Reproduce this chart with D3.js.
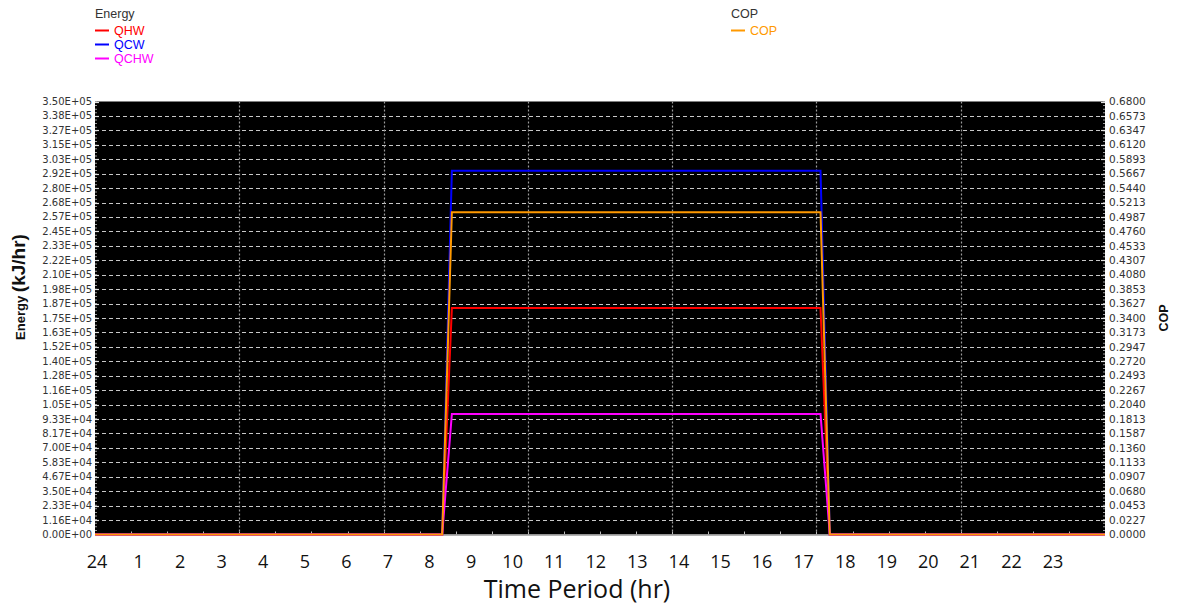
<!DOCTYPE html>
<html>
<head>
<meta charset="utf-8">
<script src="https://cdn.jsdelivr.net/npm/d3@7"></script>
<style>
  body { margin: 0; background: #fff; }
  svg { display: block; }
</style>
</head>
<body>
<svg id="chart" width="1187" height="610"></svg>
<script>
// Daily operating profile (time in hours from midnight)
const timeHr = [0, 8.25, 8.48, 17.24, 17.46, 24];

// Energy rates, kJ/hr
const qhw  = [0, 0, 1.83e5, 1.83e5, 0, 0];
const qcw  = [0, 0, 2.94e5, 2.94e5, 0, 0];
const qchw = [0, 0, 9.74e4, 9.74e4, 0, 0];

// Coefficient of performance
const cop = [0, 0, 0.506, 0.506, 0, 0];

// Axis tick labels, top to bottom
const energyTickLabels = [
  "3.50E+05","3.38E+05","3.27E+05","3.15E+05","3.03E+05","2.92E+05","2.80E+05","2.68E+05",
  "2.57E+05","2.45E+05","2.33E+05","2.22E+05","2.10E+05","1.98E+05","1.87E+05","1.75E+05",
  "1.63E+05","1.52E+05","1.40E+05","1.28E+05","1.16E+05","1.05E+05","9.33E+04","8.17E+04",
  "7.00E+04","5.83E+04","4.67E+04","3.50E+04","2.33E+04","1.16E+04","0.00E+00"
];
const copTickLabels = [
  "0.6800","0.6573","0.6347","0.6120","0.5893","0.5667","0.5440","0.5213","0.4987","0.4760",
  "0.4533","0.4307","0.4080","0.3853","0.3627","0.3400","0.3173","0.2947","0.2720","0.2493",
  "0.2267","0.2040","0.1813","0.1587","0.1360","0.1133","0.0907","0.0680","0.0453","0.0227","0.0000"
];
const hourLabels = ["24","1","2","3","4","5","6","7","8","9","10","11","12",
                    "13","14","15","16","17","18","19","20","21","22","23"];

const energyMax = 3.5e5;
const copMax = 0.68;
const majorDivisionsX = 7;
const minorPerMajorX = 4;

const energySeries = [
  { name: "QHW",  values: qhw,  color: "#ff0000" },
  { name: "QCW",  values: qcw,  color: "#0000ff" },
  { name: "QCHW", values: qchw, color: "#ff00ff" }
];
const copSeries = [{ name: "COP", values: cop, color: "#ff9900" }];

const svg = d3.select("#chart");
const W = 1187, H = 610;
const plot = { left: 95, right: 1105, top: 101.5, bottom: 534.5 };

svg.append("rect").attr("width", W).attr("height", H).attr("fill", "#fff");

const x = d3.scaleLinear().domain([0, 24]).range([plot.left, plot.right]);
const yE = d3.scaleLinear().domain([0, energyMax]).range([plot.bottom, plot.top]);
const yC = d3.scaleLinear().domain([0, copMax]).range([plot.bottom, plot.top]);

// Plot background
svg.append("rect")
  .attr("x", plot.left).attr("y", plot.top)
  .attr("width", plot.right - plot.left).attr("height", plot.bottom - plot.top)
  .attr("fill", "#000");

const nE = energyTickLabels.length;
const energyTicks = energyTickLabels.map((lab, i) => ({ lab, v: energyMax * (nE - 1 - i) / (nE - 1) }));
const nC = copTickLabels.length;
const copTicks = copTickLabels.map((lab, i) => ({ lab, v: copMax * (nC - 1 - i) / (nC - 1) }));

// Horizontal grid
const grid = svg.append("g");
grid.selectAll("line.h")
  .data(energyTicks.filter(d => d.v > 0 && d.v < energyMax))
  .join("line")
  .attr("x1", plot.left).attr("x2", plot.right)
  .attr("y1", d => Math.round(yE(d.v)) + 0.5).attr("y2", d => Math.round(yE(d.v)) + 0.5)
  .attr("stroke", "#c8c8c8").attr("stroke-width", 1)
  .attr("stroke-dasharray", "4,3");

// Vertical grid
const xMajor = d3.range(1, majorDivisionsX).map(i => 24 * i / majorDivisionsX);
grid.selectAll("line.v")
  .data(xMajor)
  .join("line")
  .attr("x1", d => Math.round(x(d)) + 0.5).attr("x2", d => Math.round(x(d)) + 0.5)
  .attr("y1", plot.top).attr("y2", plot.bottom)
  .attr("stroke", "#9a9a9a").attr("stroke-width", 1.2)
  .attr("stroke-dasharray", "2,2");

// Minor ticks along the bottom edge
const xMinor = d3.range(1, majorDivisionsX * minorPerMajorX).map(i => 24 * i / (majorDivisionsX * minorPerMajorX));
grid.selectAll("line.xm")
  .data(xMinor)
  .join("line")
  .attr("x1", d => Math.round(x(d)) + 0.5).attr("x2", d => Math.round(x(d)) + 0.5)
  .attr("y1", plot.bottom - 3).attr("y2", plot.bottom)
  .attr("stroke", "#bbbbbb").attr("stroke-width", 1);

// Bottom axis line
svg.append("line")
  .attr("x1", plot.left).attr("x2", plot.right)
  .attr("y1", plot.bottom + 0.5).attr("y2", plot.bottom + 0.5)
  .attr("stroke", "#9a9a9a").attr("stroke-width", 1.5);

// Edge ticks (left and right)
[plot.left, plot.right].forEach((ex, side) => {
  svg.append("line")
    .attr("x1", ex + (side ? -1 : 1)).attr("x2", ex + (side ? -1 : 1))
    .attr("y1", plot.top).attr("y2", plot.bottom)
    .attr("stroke", "#cfcfcf").attr("stroke-width", 1.5)
    .attr("stroke-dasharray", "1,2.6");
  svg.append("g").selectAll("line")
    .data(energyTicks)
    .join("line")
    .attr("x1", ex).attr("x2", ex + (side ? -4 : 4))
    .attr("y1", d => Math.round(yE(d.v)) + 0.5).attr("y2", d => Math.round(yE(d.v)) + 0.5)
    .attr("stroke", "#e0e0e0").attr("stroke-width", 1.2);
});

// Series lines
const lineE = d3.line().x((d, i) => x(timeHr[i])).y(d => yE(d));
const lineC = d3.line().x((d, i) => x(timeHr[i])).y(d => yC(d));

svg.append("g").selectAll("path")
  .data(energySeries)
  .join("path")
  .attr("d", d => lineE(d.values))
  .attr("fill", "none").attr("stroke", d => d.color).attr("stroke-width", 2);

svg.append("g").selectAll("path")
  .data(copSeries)
  .join("path")
  .attr("d", d => lineC(d.values))
  .attr("fill", "none").attr("stroke", d => d.color).attr("stroke-width", 2);

// Left axis labels
svg.append("g").selectAll("text")
  .data(energyTicks)
  .join("text")
  .attr("x", plot.left - 3).attr("y", d => yE(d.v))
  .attr("dy", "0.35em").attr("text-anchor", "end")
  .attr("font-family", "DejaVu Sans").attr("font-size", 10).attr("fill", "#333")
  .text(d => d.lab);

// Right axis labels
svg.append("g").selectAll("text")
  .data(copTicks)
  .join("text")
  .attr("x", plot.right + 4).attr("y", d => yC(d.v))
  .attr("dy", "0.35em").attr("text-anchor", "start")
  .attr("font-family", "DejaVu Sans").attr("font-size", 10.5).attr("fill", "#333")
  .text(d => d.lab);

// Axis titles
const leftTitle = svg.append("text")
  .attr("transform", "translate(25,287) rotate(-90)")
  .attr("text-anchor", "middle")
  .attr("font-family", "Liberation Sans, Arial").attr("font-weight", "bold").attr("fill", "#111");
leftTitle.append("tspan").attr("font-size", 13).text("Energy ");
leftTitle.append("tspan").attr("font-size", 19).text("(kJ/hr)");

svg.append("text")
  .attr("transform", "translate(1168,318) rotate(-90)")
  .attr("text-anchor", "middle")
  .attr("font-family", "Liberation Sans, Arial").attr("font-weight", "bold")
  .attr("font-size", 12.5).attr("fill", "#111")
  .text("COP");

// Hour labels beneath the plot
const xLab = d3.scalePoint().domain(hourLabels).range([97, 1053]);
svg.append("g").selectAll("text")
  .data(hourLabels)
  .join("text")
  .attr("x", d => xLab(d)).attr("y", 568)
  .attr("text-anchor", "middle")
  .attr("font-family", "Open Sans").attr("font-size", 18).attr("fill", "#111")
  .text(d => d);

svg.append("text")
  .attr("x", 577).attr("y", 598)
  .attr("text-anchor", "middle")
  .attr("font-family", "Open Sans").attr("font-size", 25).attr("fill", "#111")
  .text("Time Period (hr)");

// Legends
function legend(x0, title, items) {
  const g = svg.append("g").attr("transform", `translate(${x0},0)`);
  g.append("text").attr("x", 0).attr("y", 17.5)
    .attr("font-family", "Liberation Sans, Arial").attr("font-size", 12.5).attr("fill", "#333")
    .text(title);
  const rows = g.selectAll("g.row").data(items).join("g")
    .attr("transform", (d, i) => `translate(0,${30.5 + i * 14})`);
  rows.append("line").attr("x1", 0).attr("x2", 14).attr("y1", 0).attr("y2", 0)
    .attr("stroke", d => d.color).attr("stroke-width", 2);
  rows.append("text").attr("x", 19).attr("y", 4.2)
    .attr("font-family", "Liberation Sans, Arial").attr("font-size", 12.5)
    .attr("fill", d => d.color).text(d => d.name);
}
legend(95, "Energy", energySeries);
legend(731, "COP", copSeries);
</script>
</body>
</html>
